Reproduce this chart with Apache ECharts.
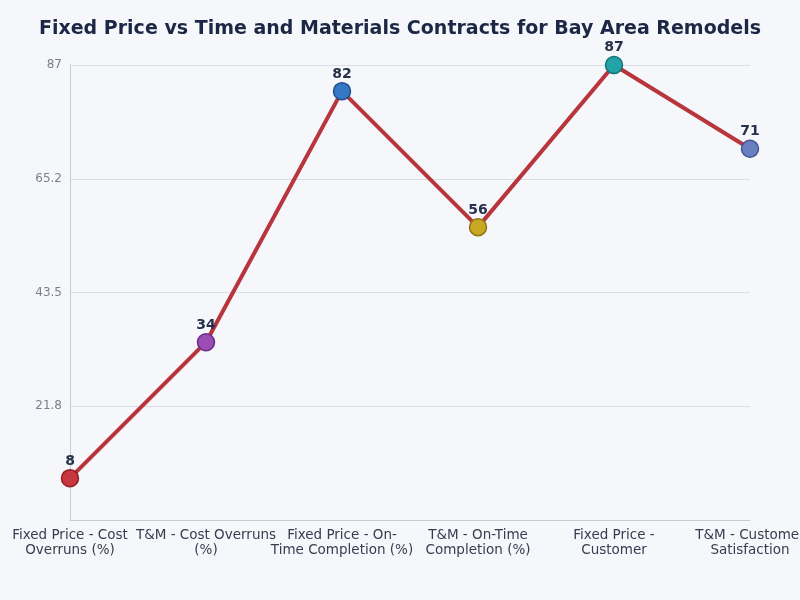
<!DOCTYPE html>
<html>
<head>
<meta charset="utf-8">
<script src="https://cdn.jsdelivr.net/npm/echarts@6/dist/echarts.min.js"></script>
<style>
  html, body { margin: 0; padding: 0; background: #f5f7fb; overflow: hidden; }
  #main { width: 800px; height: 600px; }
</style>
</head>
<body>
<div id="main"></div>
<script>
var categories = [
  "Fixed Price - Cost\nOverruns (%)",
  "T&M - Cost Overruns\n(%)",
  "Fixed Price - On-\nTime Completion (%)",
  "T&M - On-Time\nCompletion (%)",
  "Fixed Price -\nCustomer",
  "T&M - Customer\nSatisfaction"
];
var values = [8, 34, 82, 56, 87, 71];
var pointColors = ["#c8373d", "#9a4db5", "#3478c6", "#c8a823", "#21a3a8", "#6a7fc0"];
var pointBorders = ["#8f1f25", "#6e2d88", "#1f4f8c", "#8f7612", "#13737a", "#3f5392"];
var yTickLabels = ["", "21.8", "43.5", "65.2", "87"];

var chart = echarts.init(document.getElementById("main"));
chart.setOption({
  backgroundColor: "#f5f7fb",
  title: {
    text: "Fixed Price vs Time and Materials Contracts for Bay Area Remodels",
    left: "center",
    top: 15,
    textStyle: {
      fontFamily: "DejaVu Sans",
      fontSize: 19,
      fontWeight: "bold",
      color: "#1b2744"
    }
  },
  grid: { left: 70, right: 50, top: 65, bottom: 80, outerBoundsMode: "none", containLabel: false },
  xAxis: {
    type: "category",
    data: categories,
    boundaryGap: false,
    axisTick: { show: false },
    axisLine: { lineStyle: { color: "#c8cbd2", width: 1 } },
    axisLabel: {
      interval: 0,
      margin: 8,
      fontFamily: "DejaVu Sans",
      fontSize: 13.5,
      lineHeight: 15,
      color: "#363d4f"
    }
  },
  yAxis: {
    type: "value",
    min: 0,
    max: 87,
    interval: 21.75,
    axisLine: { show: true, lineStyle: { color: "#c8cbd2", width: 1 } },
    axisTick: { show: false },
    splitLine: { lineStyle: { color: "#dadde4", width: 1 } },
    axisLabel: {
      margin: 8,
      fontFamily: "DejaVu Sans",
      fontSize: 12,
      color: "#7a8090",
      formatter: function (v) {
        return yTickLabels[Math.round(v / 21.75)];
      }
    }
  },
  series: [
    {
      type: "line",
      data: values.map(function (v, i) {
        return {
          value: v,
          itemStyle: { color: pointColors[i], borderColor: pointBorders[i], borderWidth: 1.5 }
        };
      }),
      symbol: "circle",
      symbolSize: 17,
      lineStyle: { color: "#b8353c", width: 4 },
      label: {
        show: true,
        position: "top",
        distance: 1,
        fontFamily: "DejaVu Sans",
        fontSize: 14,
        fontWeight: "bold",
        color: "#27304a"
      },
      z: 3
    }
  ]
});
</script>
</body>
</html>
